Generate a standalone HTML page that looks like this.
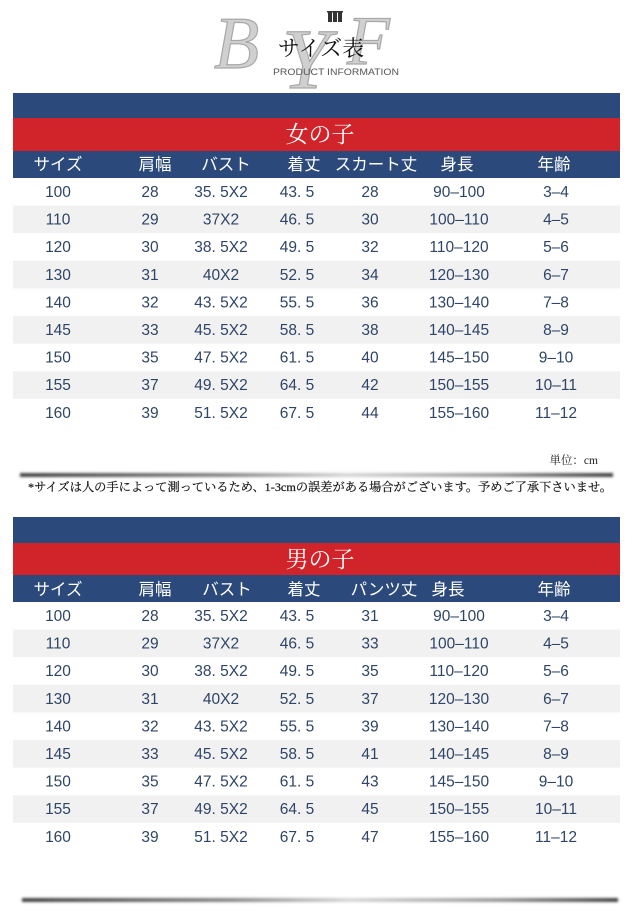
<!DOCTYPE html>
<html><head><meta charset="utf-8"><style>
html,body{margin:0;padding:0;background:#fff;}
svg{display:block;}
.d{font-family:"Liberation Sans","Noto Sans CJK JP",sans-serif;font-size:15.5px;fill:#2f4466;text-anchor:middle;}
.h{font-family:"Liberation Sans","Noto Sans CJK JP",sans-serif;font-size:16.5px;fill:#fff;text-anchor:middle;}
.t{font-family:"Liberation Serif","Noto Serif CJK SC",serif;font-size:23px;fill:#fff;text-anchor:middle;}
</style></head><body>
<svg width="640" height="924" viewBox="0 0 640 924" xmlns="http://www.w3.org/2000/svg">
<defs>
<linearGradient id="sg" x1="0" x2="1" y1="0" y2="0">
<stop offset="0" stop-color="#444"/><stop offset="0.35" stop-color="#888"/><stop offset="0.55" stop-color="#d8d8d8"/><stop offset="0.8" stop-color="#999"/><stop offset="1" stop-color="#444"/>
</linearGradient>
<filter id="bl" x="-5%" y="-200%" width="110%" height="500%"><feGaussianBlur stdDeviation="1.3"/></filter>
</defs>
<rect width="640" height="924" fill="#fff"/>
<!-- logo -->
<g font-family="Liberation Serif, serif" font-style="italic" fill="#d0d0d0" stroke="#a8a8a8" stroke-width="1.2">
<text x="214" y="68" font-size="74">B</text>
<text x="282" y="88" font-size="86">Y</text>
<text x="347" y="64" font-size="70">F</text>
</g>
<g fill="#333"><rect x="328" y="12" width="4" height="10"/><rect x="333" y="12" width="4" height="10"/><rect x="338" y="12" width="4" height="10"/><rect x="327" y="11" width="16" height="1.5"/></g>
<text x="321" y="56" font-family="Liberation Serif, 'Noto Serif CJK SC', serif" font-size="22" fill="#111" text-anchor="middle">サイズ表</text>
<text x="336" y="75" font-family="Liberation Sans, sans-serif" font-size="9" fill="#555" text-anchor="middle" textLength="126" lengthAdjust="spacingAndGlyphs">PRODUCT INFORMATION</text>

<!-- table 1 -->
<rect x="13" y="93" width="607" height="25" fill="#2b4a7b"/>
<rect x="13" y="118" width="607" height="33" fill="#d0242a"/>
<rect x="13" y="151" width="607" height="27" fill="#2b4a7b"/>
<text class="t" x="320" y="142">女の子</text>
<text class="h" y="170"><tspan x="58">サイズ</tspan><tspan x="155">肩幅</tspan><tspan x="226">バスト</tspan><tspan x="304">着丈</tspan><tspan x="376">スカート丈</tspan><tspan x="457">身長</tspan><tspan x="554">年齢</tspan></text>
<g fill="#f1f1f1">
<rect x="13" y="205.6" width="607" height="27.6"/>
<rect x="13" y="260.8" width="607" height="27.6"/>
<rect x="13" y="316" width="607" height="27.6"/>
<rect x="13" y="371.2" width="607" height="27.6"/>
</g>
<text class="d" y="197"><tspan x="58">100</tspan><tspan x="150">28</tspan><tspan x="221">35. 5X2</tspan><tspan x="297">43. 5</tspan><tspan x="370">28</tspan><tspan x="459">90–100</tspan><tspan x="556">3–4</tspan></text>
<text class="d" y="224.6"><tspan x="58">110</tspan><tspan x="150">29</tspan><tspan x="221">37X2</tspan><tspan x="297">46. 5</tspan><tspan x="370">30</tspan><tspan x="459">100–110</tspan><tspan x="556">4–5</tspan></text>
<text class="d" y="252.2"><tspan x="58">120</tspan><tspan x="150">30</tspan><tspan x="221">38. 5X2</tspan><tspan x="297">49. 5</tspan><tspan x="370">32</tspan><tspan x="459">110–120</tspan><tspan x="556">5–6</tspan></text>
<text class="d" y="279.8"><tspan x="58">130</tspan><tspan x="150">31</tspan><tspan x="221">40X2</tspan><tspan x="297">52. 5</tspan><tspan x="370">34</tspan><tspan x="459">120–130</tspan><tspan x="556">6–7</tspan></text>
<text class="d" y="307.4"><tspan x="58">140</tspan><tspan x="150">32</tspan><tspan x="221">43. 5X2</tspan><tspan x="297">55. 5</tspan><tspan x="370">36</tspan><tspan x="459">130–140</tspan><tspan x="556">7–8</tspan></text>
<text class="d" y="335"><tspan x="58">145</tspan><tspan x="150">33</tspan><tspan x="221">45. 5X2</tspan><tspan x="297">58. 5</tspan><tspan x="370">38</tspan><tspan x="459">140–145</tspan><tspan x="556">8–9</tspan></text>
<text class="d" y="362.6"><tspan x="58">150</tspan><tspan x="150">35</tspan><tspan x="221">47. 5X2</tspan><tspan x="297">61. 5</tspan><tspan x="370">40</tspan><tspan x="459">145–150</tspan><tspan x="556">9–10</tspan></text>
<text class="d" y="390.2"><tspan x="58">155</tspan><tspan x="150">37</tspan><tspan x="221">49. 5X2</tspan><tspan x="297">64. 5</tspan><tspan x="370">42</tspan><tspan x="459">150–155</tspan><tspan x="556">10–11</tspan></text>
<text class="d" y="417.8"><tspan x="58">160</tspan><tspan x="150">39</tspan><tspan x="221">51. 5X2</tspan><tspan x="297">67. 5</tspan><tspan x="370">44</tspan><tspan x="459">155–160</tspan><tspan x="556">11–12</tspan></text>

<text x="598" y="464" font-family="Liberation Serif, 'Noto Serif CJK SC', serif" font-size="11.5" fill="#222" text-anchor="end">単位：cm</text>
<rect x="20" y="473" width="593" height="4" fill="url(#sg)" filter="url(#bl)"/>
<text x="28" y="491" font-family="Liberation Serif, 'Noto Serif CJK SC', serif" font-size="12" fill="#111" stroke="#111" stroke-width="0.2" textLength="584" lengthAdjust="spacingAndGlyphs">*サイズは人の手によって測っているため、1-3cmの誤差がある場合がございます。予めご了承下さいませ。</text>

<!-- table 2 -->
<rect x="13" y="517" width="607" height="26" fill="#2b4a7b"/>
<rect x="13" y="543" width="607" height="32" fill="#d0242a"/>
<rect x="13" y="575" width="607" height="27" fill="#2b4a7b"/>
<text class="t" x="320" y="567">男の子</text>
<text class="h" y="595"><tspan x="58">サイズ</tspan><tspan x="155">肩幅</tspan><tspan x="227">バスト</tspan><tspan x="304">着丈</tspan><tspan x="384">パンツ丈</tspan><tspan x="448">身長</tspan><tspan x="554">年齢</tspan></text>
<g fill="#f1f1f1">
<rect x="13" y="629.6" width="607" height="27.6"/>
<rect x="13" y="684.8" width="607" height="27.6"/>
<rect x="13" y="740" width="607" height="27.6"/>
<rect x="13" y="795.2" width="607" height="27.6"/>
</g>
<text class="d" y="621"><tspan x="58">100</tspan><tspan x="150">28</tspan><tspan x="221">35. 5X2</tspan><tspan x="297">43. 5</tspan><tspan x="370">31</tspan><tspan x="459">90–100</tspan><tspan x="556">3–4</tspan></text>
<text class="d" y="648.6"><tspan x="58">110</tspan><tspan x="150">29</tspan><tspan x="221">37X2</tspan><tspan x="297">46. 5</tspan><tspan x="370">33</tspan><tspan x="459">100–110</tspan><tspan x="556">4–5</tspan></text>
<text class="d" y="676.2"><tspan x="58">120</tspan><tspan x="150">30</tspan><tspan x="221">38. 5X2</tspan><tspan x="297">49. 5</tspan><tspan x="370">35</tspan><tspan x="459">110–120</tspan><tspan x="556">5–6</tspan></text>
<text class="d" y="703.8"><tspan x="58">130</tspan><tspan x="150">31</tspan><tspan x="221">40X2</tspan><tspan x="297">52. 5</tspan><tspan x="370">37</tspan><tspan x="459">120–130</tspan><tspan x="556">6–7</tspan></text>
<text class="d" y="731.4"><tspan x="58">140</tspan><tspan x="150">32</tspan><tspan x="221">43. 5X2</tspan><tspan x="297">55. 5</tspan><tspan x="370">39</tspan><tspan x="459">130–140</tspan><tspan x="556">7–8</tspan></text>
<text class="d" y="759"><tspan x="58">145</tspan><tspan x="150">33</tspan><tspan x="221">45. 5X2</tspan><tspan x="297">58. 5</tspan><tspan x="370">41</tspan><tspan x="459">140–145</tspan><tspan x="556">8–9</tspan></text>
<text class="d" y="786.6"><tspan x="58">150</tspan><tspan x="150">35</tspan><tspan x="221">47. 5X2</tspan><tspan x="297">61. 5</tspan><tspan x="370">43</tspan><tspan x="459">145–150</tspan><tspan x="556">9–10</tspan></text>
<text class="d" y="814.2"><tspan x="58">155</tspan><tspan x="150">37</tspan><tspan x="221">49. 5X2</tspan><tspan x="297">64. 5</tspan><tspan x="370">45</tspan><tspan x="459">150–155</tspan><tspan x="556">10–11</tspan></text>
<text class="d" y="841.8"><tspan x="58">160</tspan><tspan x="150">39</tspan><tspan x="221">51. 5X2</tspan><tspan x="297">67. 5</tspan><tspan x="370">47</tspan><tspan x="459">155–160</tspan><tspan x="556">11–12</tspan></text>

<rect x="22" y="898" width="596" height="4" fill="url(#sg)" filter="url(#bl)"/>
</svg>
</body></html>
